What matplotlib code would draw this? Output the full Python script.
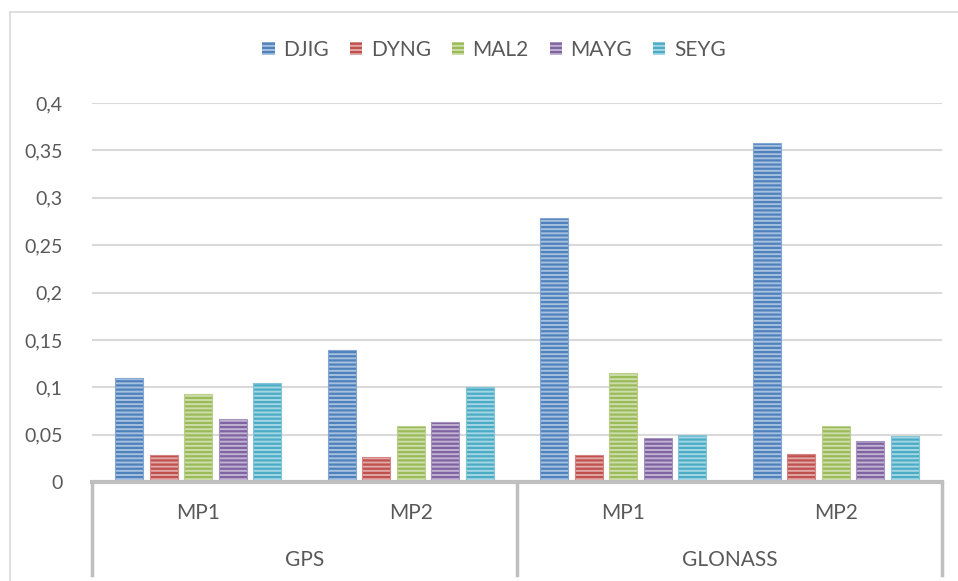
import numpy as np
import matplotlib.pyplot as plt
from matplotlib.patches import Rectangle
from matplotlib.lines import Line2D

# Multipath values per station, ordered GPS MP1, GPS MP2, GLONASS MP1, GLONASS MP2
stations = ["DJIG", "DYNG", "MAL2", "MAYG", "SEYG"]
signals = ["MP1", "MP2", "MP1", "MP2"]
systems = ["GPS", "GLONASS"]
djig = [0.110, 0.139, 0.279, 0.358]
dyng = [0.029, 0.026, 0.029, 0.030]
mal2 = [0.093, 0.059, 0.115, 0.059]
mayg = [0.067, 0.063, 0.046, 0.043]
seyg = [0.105, 0.100, 0.050, 0.049]
yticks = [0, 0.05, 0.1, 0.15, 0.2, 0.25, 0.3, 0.35, 0.4]

series = [djig, dyng, mal2, mayg, seyg]
colors = ["#4F81BD", "#C0504D", "#9BBB59", "#8064A2", "#4BACC6"]

plt.rcParams['font.family'] = ['Lato', 'DejaVu Sans']
plt.rcParams['hatch.linewidth'] = 1.6
text_col = "#595959"
axis_col = "#BFBFBF"


def lighten(c, f):
    c = np.array([int(c[i:i + 2], 16) for i in (1, 3, 5)]) / 255
    return tuple(c + (1 - c) * f)


fig = plt.figure(figsize=(9.58, 5.81), dpi=100)
W, H = 958, 581
ax = fig.add_axes([92 / W, (H - 482) / H, 850 / W, 379 / H])

# outer chart frame
fig.add_artist(Line2D([10 / W, 10 / W], [0, 1 - 12 / H], color="#D9D9D9", lw=1.2))
fig.add_artist(Line2D([10 / W, 1], [1 - 12 / H, 1 - 12 / H], color="#D9D9D9", lw=1.2))

x = np.arange(len(signals))
width = 0.132
step = 0.162
for i, (vals, c) in enumerate(zip(series, colors)):
    pos = x + (i - 2) * step
    ax.bar(pos, vals, width, color=lighten(c, 0.5), edgecolor=c, hatch="----",
           linewidth=0, zorder=3)
    ax.bar(pos, vals, width, facecolor="none", edgecolor=lighten(c, 0.3),
           linewidth=0.8, zorder=4)

ax.set_xlim(-0.5, 3.5)
ax.set_ylim(0, 0.4)
ax.set_yticks(yticks)
ax.set_yticklabels([f"{v:g}".replace(".", ",") for v in yticks])
ax.tick_params(axis="y", length=0, pad=21, labelsize=14, labelcolor=text_col)
ax.set_xticks([])
ax.grid(axis="y", color="#D9D9D9", lw=1.5, zorder=0)
for s in ax.spines.values():
    s.set_visible(False)

# category axis: signal row and system row
tr = ax.get_xaxis_transform()
ax.plot([-0.5, 3.5], [0, 0], color=axis_col, lw=3, transform=tr, clip_on=False, zorder=5)
for xv in [-0.5, 1.5, 3.5]:
    ax.plot([xv, xv], [0, -0.245], color=axis_col, lw=2.5, transform=tr, clip_on=False)
for xi, lab in zip(x, signals):
    ax.text(xi, -0.082, lab, transform=tr, ha="center", va="center",
            fontsize=15, color=text_col)
for xi, lab in zip([0.5, 2.5], systems):
    ax.text(xi, -0.206, lab, transform=tr, ha="center", va="center",
            fontsize=15, color=text_col)

handles = [Rectangle((0, 0), 1, 1, facecolor=lighten(c, 0.5), edgecolor=c,
                     hatch="----", linewidth=0) for c in colors]
fig.legend(handles, stations, loc="center", bbox_to_anchor=(494 / W, 1 - 50 / H),
           ncol=5, frameon=False, fontsize=15, labelcolor=text_col,
           handlelength=0.6, handleheight=0.6, handletextpad=0.4, columnspacing=1.0)

fig.savefig("out.png", dpi=100)
